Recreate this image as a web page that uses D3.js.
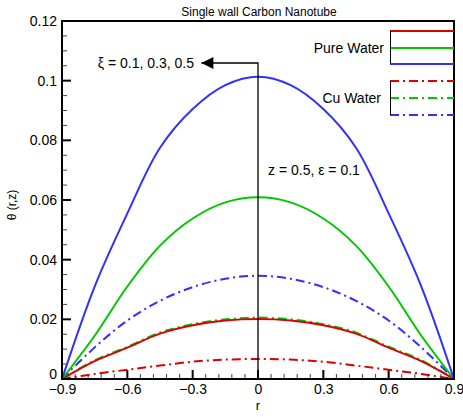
<!DOCTYPE html>
<html><head><meta charset="utf-8">
<script src="https://cdn.jsdelivr.net/npm/d3@7"></script>
<style>body{margin:0;background:#fff}svg{display:block;font-family:"Liberation Sans",Arial,sans-serif}</style>
</head><body><svg id="c" width="463" height="417"></svg>
<script>
const rValues = [-0.9,-0.75,-0.6,-0.45,-0.3,-0.15,0,0.15,0.3,0.45,0.6,0.75,0.9];
const pureBlue  = [0,0.0310,0.0555,0.0775,0.0905,0.0985,0.1013,0.0985,0.0905,0.0775,0.0555,0.0310,0];
const pureGreen = [0,0.0145,0.0310,0.0447,0.0538,0.0592,0.0609,0.0592,0.0538,0.0447,0.0310,0.0145,0];
const pureRed   = [0,0.0060,0.0105,0.0152,0.0180,0.0196,0.0201,0.0196,0.0180,0.0152,0.0105,0.0060,0];
const cuBlue    = [0,0.0106,0.0196,0.0262,0.0308,0.0336,0.0346,0.0336,0.0308,0.0262,0.0196,0.0106,0];
const cuGreen   = [0,0.0063,0.0108,0.0156,0.0184,0.0200,0.0206,0.0200,0.0184,0.0156,0.0108,0.0063,0];
const cuRed     = [0,0.0017,0.0031,0.0045,0.0058,0.0065,0.0067,0.0065,0.0058,0.0045,0.0031,0.0017,0];
const xTicks = [-0.9,-0.6,-0.3,0,0.3,0.6,0.9];
const yTicks = [0,0.02,0.04,0.06,0.08,0.1,0.12];
const titleText = "Single wall Carbon Nanotube";
const legendPure = "Pure Water", legendCu = "Cu Water";
const annXi = "ξ = 0.1, 0.3, 0.5", annZ = "z = 0.5, ε = 0.1";

const RED="#dd0000", GREEN="#00c800", BLUE="#3030ff";
const DD="9,4,2,4";
const series = [
  {v:cuRed,c:RED,d:DD},{v:cuGreen,c:GREEN,d:DD},{v:cuBlue,c:BLUE,d:DD},
  {v:pureRed,c:RED,d:null},{v:pureGreen,c:GREEN,d:null},{v:pureBlue,c:BLUE,d:null}
];

const svg = d3.select("#c");
const L=62,R=454,T=21,B=379;
const x = d3.scaleLinear().domain([-0.9,0.9]).range([L,R]);
const y = d3.scaleLinear().domain([0,0.12]).range([B,T]);

// ticks (major + minor), pointing inward
const g = svg.append("g");
d3.range(0,0.1201,0.005).forEach(t=>{
  const major = Math.abs(t/0.02-Math.round(t/0.02))<1e-6;
  g.append("line").attr("x1",L).attr("x2",L+(major?9:5)).attr("y1",y(t)).attr("y2",y(t))
   .attr("stroke",major?"#000":"#444").attr("stroke-width",major?2:1);
});
d3.range(-0.9,0.9001,0.06).forEach(t=>{
  const major = Math.abs(t/0.3-Math.round(t/0.3))<1e-6;
  g.append("line").attr("y1",B).attr("y2",B-(major?9:5)).attr("x1",x(t)).attr("x2",x(t))
   .attr("stroke",major?"#000":"#444").attr("stroke-width",major?2:1);
});

// tick labels via d3 axes
const yAxis = svg.append("g").attr("transform",`translate(${L},0)`)
  .call(d3.axisLeft(y).tickValues(yTicks).tickSize(0).tickPadding(5).tickFormat(d=>d===0?"0":d3.format("~g")(d)));
const xAxis = svg.append("g").attr("transform",`translate(0,${B})`)
  .call(d3.axisBottom(x).tickValues(xTicks).tickSize(0).tickPadding(5).tickFormat(d=>d===0?"0":d3.format("~g")(d)));
[yAxis,xAxis].forEach(a=>{a.select(".domain").remove();a.selectAll("text").attr("font-size",14).attr("fill","#000").attr("font-family","Liberation Sans, Arial, sans-serif");});
yAxis.selectAll(".tick").filter(d=>d===0).select("text").attr("dy","-0.05em");

// curves
const line = d3.line().x((d,i)=>x(rValues[i])).y(d=>y(d)).curve(d3.curveCatmullRom.alpha(0.5));
svg.append("clipPath").attr("id","cp").append("rect").attr("x",L).attr("y",T).attr("width",R-L).attr("height",B-T);
svg.append("g").attr("clip-path","url(#cp)").selectAll("path").data(series).join("path")
  .attr("d",s=>line(s.v)).attr("fill","none").attr("stroke",s=>s.c).attr("stroke-width",2)
  .attr("stroke-dasharray",s=>s.d);

// vertical line and arrow
svg.append("defs").append("marker").attr("id","ah").attr("viewBox","0 0 10 10").attr("refX",10).attr("refY",5)
  .attr("markerWidth",18).attr("markerHeight",12).attr("markerUnits","userSpaceOnUse").attr("orient","auto")
  .append("path").attr("d","M0,0L10,5L0,10Z").attr("fill","#000");
svg.append("path").attr("d",`M${x(0)},${B}V63H${x(-0.26)}`).attr("fill","none").attr("stroke","#000").attr("stroke-width",1.3)
  .attr("marker-end","url(#ah)");
svg.append("text").attr("x",194).attr("y",68).attr("text-anchor","end").attr("font-size",14).text(annXi);
svg.append("text").attr("x",268).attr("y",175).attr("font-size",14).text(annZ);

// frame
svg.append("rect").attr("x",L).attr("y",T).attr("width",R-L).attr("height",B-T).attr("fill","none").attr("stroke","#000").attr("stroke-width",2);

// title and axis titles
svg.append("text").attr("x",259).attr("y",16).attr("text-anchor","middle").attr("font-size",12).text(titleText);
svg.append("text").attr("x",x(0)).attr("y",410).attr("text-anchor","middle").attr("font-size",13).text("r");
svg.append("text").attr("transform","translate(16,205) rotate(-90)").attr("text-anchor","middle").attr("font-size",12).text("θ (r,z)");

// legend
const lg = svg.append("g");
const legRows = [
  {y:31,c:RED,d:null},{y:48,c:GREEN,d:null},{y:64,c:BLUE,d:null},
  {y:81,c:RED,d:DD},{y:98,c:GREEN,d:DD},{y:115,c:BLUE,d:DD}
];
lg.selectAll("line.l").data(legRows).join("line").attr("x1",390).attr("x2",R).attr("y1",d=>d.y).attr("y2",d=>d.y)
  .attr("stroke",d=>d.c).attr("stroke-width",2).attr("stroke-dasharray",d=>d.d);
lg.append("line").attr("x1",390.5).attr("x2",390.5).attr("y1",31).attr("y2",64).attr("stroke","#000").attr("stroke-width",1);
lg.append("line").attr("x1",390.5).attr("x2",390.5).attr("y1",81).attr("y2",115).attr("stroke","#000").attr("stroke-width",1);
lg.append("text").attr("x",384).attr("y",53).attr("text-anchor","end").attr("font-size",14).text(legendPure);
lg.append("text").attr("x",381).attr("y",103).attr("text-anchor","end").attr("font-size",14).text(legendCu);
</script></body></html>
